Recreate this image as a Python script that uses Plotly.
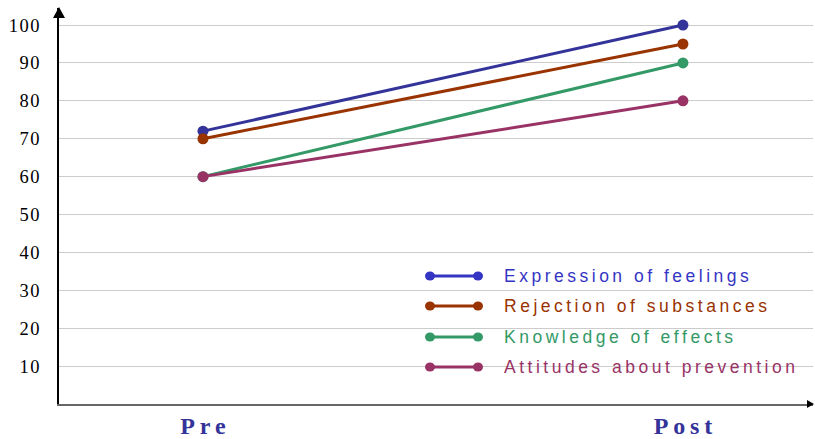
import plotly.graph_objects as go

# --- data -------------------------------------------------------------
phases = ["Pre", "Post"]
series_names = [
    "Expression of feelings",
    "Rejection of substances",
    "Knowledge of effects",
    "Attitudes about prevention",
]
expression_of_feelings = [72, 100]
rejection_of_substances = [70, 95]
knowledge_of_effects = [60, 90]
attitudes_about_prevention = [60, 80]
y_ticks = [10, 20, 30, 40, 50, 60, 70, 80, 90, 100]

series_values = [
    expression_of_feelings,
    rejection_of_substances,
    knowledge_of_effects,
    attitudes_about_prevention,
]
line_colors = ["#333399", "#993300", "#339966", "#993366"]
key_colors = ["#3535c4", "#993300", "#339966", "#993366"]

# --- layout geometry (pixels) ----------------------------------------
W, H = 815, 439
L, R, T, B = 59, 2, 8, 35


def px_x(px):
    return (px - L) / (W - L - R)


def px_y(py):
    return (H - B - py) / (H - T - B)


def spaced(s, sep="\u2009"):
    return sep.join(s)


x_pos = list(range(len(phases)))

fig = go.Figure()
for name, vals, col in zip(series_names, series_values, line_colors):
    fig.add_trace(go.Scatter(
        x=x_pos, y=vals, name=name, mode="lines+markers",
        line=dict(color=col, width=3),
        marker=dict(color=col, size=11),
        showlegend=False, hoverinfo="skip",
    ))

shapes = []
annotations = []

# y-axis arrow head
shapes.append(dict(
    type="path", xref="paper", yref="paper",
    xsizemode="pixel", ysizemode="pixel", xanchor=0, yanchor=1,
    path="M -6,-10 L 6,-10 L 0,1 Z",
    fillcolor="black", line=dict(width=0), layer="above",
))
# x-axis arrow head
shapes.append(dict(
    type="path", xref="paper", yref="paper",
    xsizemode="pixel", ysizemode="pixel", xanchor=1, yanchor=0,
    path="M -6,-4 L -6,4 L 1,0 Z",
    fillcolor="black", line=dict(width=0), layer="above",
))

# custom key: line with a dot at each end, coloured label
rows = [276, 306, 337, 367]
for name, col, ty in zip(series_names, key_colors, rows):
    x0, x1 = px_x(430), px_x(478)
    yy = px_y(ty)
    shapes.append(dict(type="line", xref="paper", yref="paper",
                       x0=x0, x1=x1, y0=yy, y1=yy,
                       line=dict(color=col, width=3)))
    for xe in (x0, x1):
        shapes.append(dict(
            type="circle", xref="paper", yref="paper",
            xsizemode="pixel", ysizemode="pixel", xanchor=xe, yanchor=yy,
            x0=-5, x1=5, y0=-4.5, y1=4.5,
            fillcolor=col, line=dict(width=0),
        ))
    annotations.append(dict(
        xref="paper", yref="paper", x=px_x(502), y=yy,
        xanchor="left", yanchor="middle", showarrow=False,
        text=spaced(name),
        font=dict(family="Liberation Sans, Arial, sans-serif", size=17.5, color=col),
    ))

fig.update_layout(
    width=W, height=H,
    margin=dict(l=L, r=R, t=T, b=B, pad=0, autoexpand=False),
    paper_bgcolor="white", plot_bgcolor="white",
    shapes=shapes, annotations=annotations,
    xaxis=dict(
        range=[-0.3, 1.271],
        tickvals=x_pos,
        ticktext=[spaced(p) for p in phases],
        tickfont=dict(family="Liberation Serif, Times New Roman, serif",
                      size=24, color="#333399", weight="bold"),
        showgrid=False, zeroline=False,
        showline=True, linecolor="#666666", linewidth=2,
        ticks="", ticklabelstandoff=-1,
        automargin=False, fixedrange=True,
    ),
    yaxis=dict(
        range=[0, 104.5],
        tickvals=y_ticks,
        ticktext=[spaced(str(v), "\u200a") for v in y_ticks],
        tickfont=dict(family="Liberation Serif, Times New Roman, serif",
                      size=18.5, color="black"),
        showgrid=True, gridcolor="#cccccc", gridwidth=1,
        zeroline=False,
        showline=True, linecolor="black", linewidth=1.5,
        ticks="", ticklabelstandoff=14,
        automargin=False, fixedrange=True,
    ),
)

fig.write_html("out.html")
